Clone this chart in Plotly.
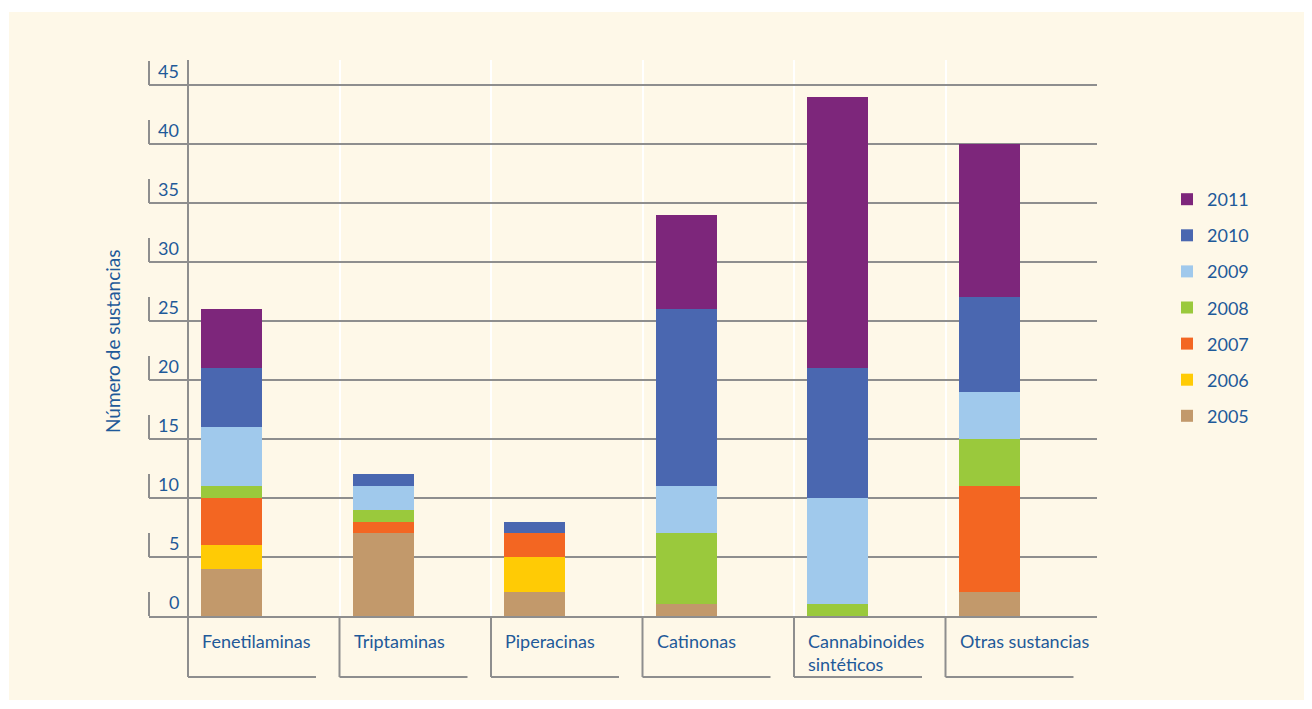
import plotly.graph_objects as go

# ---- data ----
categories = ["Fenetilaminas", "Triptaminas", "Piperacinas", "Catinonas",
              "Cannabinoides<br>sintéticos", "Otras sustancias"]
years = ["2005", "2006", "2007", "2008", "2009", "2010", "2011"]
v2005 = [4, 7, 2, 1, 0, 2]
v2006 = [2, 0, 3, 0, 0, 0]
v2007 = [4, 1, 2, 0, 0, 9]
v2008 = [1, 1, 0, 6, 1, 4]
v2009 = [5, 2, 0, 4, 9, 4]
v2010 = [5, 1, 1, 15, 11, 8]
v2011 = [5, 0, 0, 8, 23, 13]
y_ticks = [0, 5, 10, 15, 20, 25, 30, 35, 40, 45]
y_title = "Número de sustancias"

series = [v2005, v2006, v2007, v2008, v2009, v2010, v2011]
colors = ["#C2996B", "#FFCB05", "#F36622", "#9AC93C", "#A0C9EC", "#4A67B0", "#7D267B"]

TEXT = "#1F5A99"
GRID = "#8E8E8E"
CREAM = "#FEF8E8"
FONT = "Lato"

OFF = 8  # page body margin offset
W, H = 1312 - OFF, 709 - OFF
L, R, T, B = 149, 1097, 60, 616   # reference pixel coords
X0PX = 188
UNIT = 151.5
xr = [(L - X0PX) / UNIT, (R - X0PX) / UNIT]
YPX = 11.8
yr = [0, (B - T) / YPX]


def px_x(px):
    return (px - L) / (R - L)


def px_y(py):
    return (B - py) / (B - T)


def val_x(v):
    return px_x(X0PX + v * UNIT)


BAR_OFF = 13 / UNIT
BAR_W = 61 / UNIT
n = len(categories)
bar_x = [i + BAR_OFF + BAR_W / 2 for i in range(n)]

fig = go.Figure()
for k, (yr_lbl, vals, col) in enumerate(zip(years, series, colors)):
    fig.add_trace(go.Bar(
        x=bar_x, y=vals, name=yr_lbl, width=BAR_W,
        marker=dict(color=col, line=dict(width=0)),
        legendgroup=yr_lbl, legendrank=len(years) - k,
    ))

shapes = []
shapes.append(dict(type="rect", xref="paper", yref="paper",
                   x0=px_x(9), x1=px_x(1305), y0=px_y(700), y1=px_y(12),
                   fillcolor=CREAM, line=dict(width=0), layer="below"))
shapes.append(dict(type="line", xref="paper", yref="paper",
                   x0=val_x(0), x1=val_x(0), y0=px_y(677), y1=1,
                   line=dict(color=GRID, width=2)))
for i in range(n):
    shapes.append(dict(type="line", xref="paper", yref="paper",
                       x0=val_x(i), x1=val_x(i), y0=px_y(677), y1=0,
                       line=dict(color=GRID, width=2)))
    shapes.append(dict(type="line", xref="paper", yref="paper",
                       x0=val_x(i), x1=val_x(i + 128 / UNIT), y0=px_y(677), y1=px_y(677),
                       line=dict(color=GRID, width=2)))
for t in y_ticks:
    shapes.append(dict(type="line", xref="paper", yref="y",
                       x0=0, x1=0, y0=t, y1=t + 24 / YPX,
                       line=dict(color=GRID, width=2)))

annotations = []
for t in y_ticks:
    annotations.append(dict(xref="paper", yref="y", x=px_x(181), y=t,
                            xanchor="right", yanchor="bottom", yshift=1,
                            text=str(t), showarrow=False,
                            font=dict(family=FONT, size=18, color=TEXT)))
for i, c in enumerate(categories):
    annotations.append(dict(xref="paper", yref="paper", x=val_x(i + 12 / UNIT), y=px_y(628),
                            xanchor="left", yanchor="top", align="left",
                            text=c, showarrow=False,
                            font=dict(family=FONT, size=18, color=TEXT)))
annotations.append(dict(xref="paper", yref="paper", x=px_x(112), y=px_y(341),
                        xanchor="center", yanchor="middle", textangle=-90,
                        text=y_title, showarrow=False,
                        font=dict(family=FONT, size=19, color=TEXT)))

fig.update_layout(
    width=W, height=H,
    margin=dict(l=L - OFF, r=W - (R - OFF), t=T - OFF, b=H - (B - OFF), pad=0),
    paper_bgcolor="white",
    plot_bgcolor="rgba(0,0,0,0)",
    barmode="stack",
    shapes=shapes,
    annotations=annotations,
    showlegend=True,
    legend=dict(x=px_x(1167), y=px_y(181), xanchor="left", yanchor="top",
                traceorder="grouped", tracegroupgap=9.7,
                bgcolor="rgba(0,0,0,0)",
                font=dict(family=FONT, size=18, color=TEXT)),
    xaxis=dict(range=xr, tickvals=list(range(n + 1)), showticklabels=False,
               showgrid=True, gridcolor="white", gridwidth=2, zeroline=False,
               showline=True, linecolor=GRID, linewidth=2, ticks="",
               fixedrange=True),
    yaxis=dict(range=yr, tickvals=y_ticks, showticklabels=False,
               showgrid=True, gridcolor=GRID, gridwidth=2, zeroline=False,
               showline=False, ticks="", fixedrange=True),
    font=dict(family=FONT, color=TEXT),
)

fig.write_html("out.html")
